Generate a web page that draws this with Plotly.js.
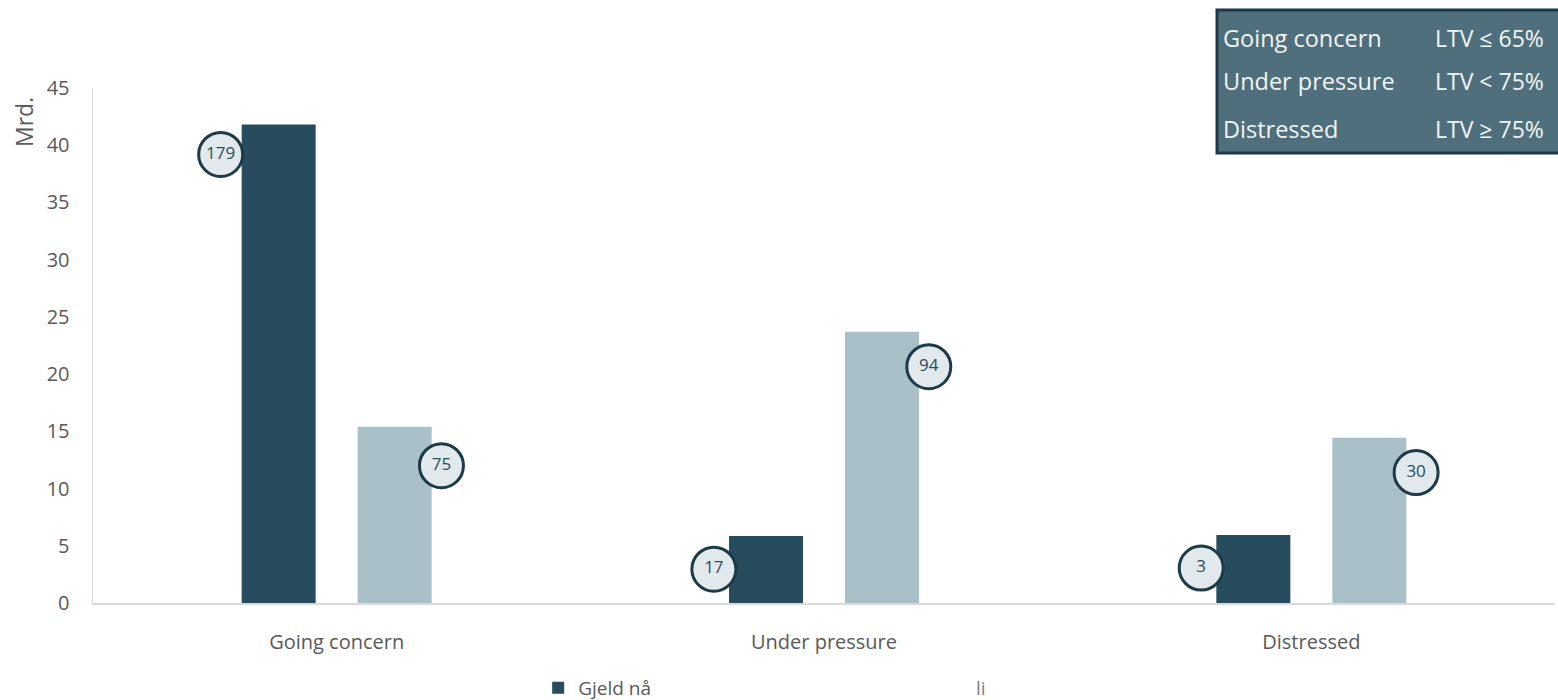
<!DOCTYPE html>
<html>
<head>
<meta charset="utf-8">
<script src="https://cdn.plot.ly/plotly-3.0.1.min.js"></script>
<style>html,body{margin:0;padding:0;background:#fff;}#chart{width:1558px;height:700px;}</style>
</head>
<body>
<div id="chart"></div>
<script>
const categories = ["Going concern", "Under pressure", "Distressed"];
const gjeldNa = [41.8, 5.85, 5.95];
const gjeldSenere = [15.4, 23.7, 14.45];
const countsNa = [179, 17, 3];
const countsSenere = [75, 94, 30];
const yTicks = [0, 5, 10, 15, 20, 25, 30, 35, 40, 45];
const boxRows = [["Going concern", "LTV \u2264 65%"], ["Under pressure", "LTV < 75%"], ["Distressed", "LTV \u2265 75%"]];

const FONT = "Open Sans";
const dark = "#264c5d";
const light = "#a9c0c9";
const idx = categories.map((c, i) => i);

const traces = [
  {type: "bar", x: idx, y: gjeldNa, name: "Gjeld nå", marker: {color: dark}, hoverinfo: "y"},
  {type: "bar", x: idx, y: gjeldSenere, name: "", marker: {color: light}, showlegend: false, hoverinfo: "y"},
  {type: "scatter", mode: "markers+text", showlegend: false, hoverinfo: "skip",
   x: idx.map(i => i - 0.226 - (i === 0 ? 0.012 : 0)), y: gjeldNa.map((v, i) => v - (i === 0 ? 2.6 : 2.9)),
   text: countsNa.map(String), textposition: "middle center",
   textfont: {family: FONT, size: 17, color: "#2a4d5d"},
   marker: {symbol: "circle", size: 44, color: "#e2e9ed", line: {color: "#1d3a47", width: 3}}},
  {type: "scatter", mode: "markers+text", showlegend: false, hoverinfo: "skip",
   x: idx.map(i => i + 0.215), y: gjeldSenere.map((v, i) => v - (i === 0 ? 3.4 : 3.05)),
   text: countsSenere.map(String), textposition: "middle center",
   textfont: {family: FONT, size: 17, color: "#2a4d5d"},
   marker: {symbol: "circle", size: 44, color: "#e2e9ed", line: {color: "#1d3a47", width: 3}}}
];

const annotations = [
  {xref: "paper", yref: "paper", x: -0.0472, y: 0.934, text: "Mrd.", textangle: -90, showarrow: false,
   font: {family: FONT, size: 23, color: "#595959"}, xanchor: "center", yanchor: "middle"},
  {xref: "paper", yref: "paper", x: 0.6025, y: -0.165, text: "li", showarrow: false,
   font: {family: FONT, size: 19, color: "#7f7f7f"}, xanchor: "left", yanchor: "middle"}
];
const rowY = [38, 81, 129];
boxRows.forEach((r, k) => {
  const yp = (603 - rowY[k]) / 515;
  annotations.push({xref: "paper", yref: "paper", x: (1221 - 93) / 1462, y: yp, text: r[0], showarrow: false,
    xanchor: "left", yanchor: "middle", font: {family: FONT, size: 23.5, color: "#f2f5f7"}});
  annotations.push({xref: "paper", yref: "paper", x: (1433 - 93) / 1462, y: yp, text: r[1], showarrow: false,
    xanchor: "left", yanchor: "middle", font: {family: FONT, size: 23, color: "#f2f5f7"}});
});

const layout = {
  width: 1558, height: 700,
  margin: {l: 93, r: 3, t: 88, b: 97, autoexpand: false},
  paper_bgcolor: "#ffffff", plot_bgcolor: "#ffffff",
  barmode: "group", bargap: 0.524, bargroupgap: 0.362,
  font: {family: FONT, color: "#595959"},
  xaxis: {
    range: [-0.5, 2.5], tickvals: idx, ticktext: categories, showgrid: false, zeroline: false,
    showline: true, linecolor: "#d9d9d9", linewidth: 1.5, ticks: "", ticklabelstandoff: 20,
    tickfont: {family: FONT, size: 20, color: "#595959"}, fixedrange: true, automargin: false
  },
  yaxis: {
    range: [0, 45], tickvals: yTicks, showgrid: false, zeroline: false, showline: true,
    linecolor: "#d9d9d9", linewidth: 1.5, ticks: "", ticklabelstandoff: 18,
    tickfont: {family: FONT, size: 20, color: "#595959"}, fixedrange: true, automargin: false
  },
  showlegend: true,
  legend: {orientation: "h", x: 0.3045, y: -0.165, xanchor: "left", yanchor: "middle",
    font: {family: FONT, size: 19, color: "#595959"}, itemwidth: 30, bgcolor: "rgba(0,0,0,0)"},
  shapes: [
    {type: "rect", xref: "paper", yref: "paper", x0: (1217 - 93) / 1462, x1: 1.02,
     y0: (603 - 153) / 515, y1: (603 - 10) / 515, fillcolor: "#4f6f7c", line: {color: "#1d3947", width: 3}, layer: "above"}
  ],
  annotations: annotations
};

Plotly.newPlot("chart", traces, layout, {displayModeBar: false, staticPlot: true});
</script>
</body>
</html>
